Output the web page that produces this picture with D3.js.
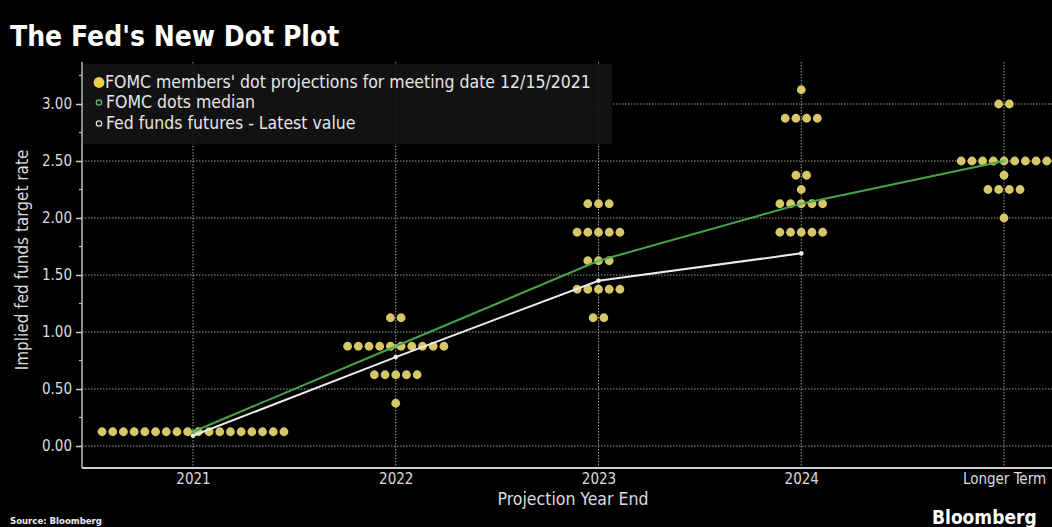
<!DOCTYPE html>
<html>
<head>
<meta charset="utf-8">
<script src="https://cdn.jsdelivr.net/npm/d3@7"></script>
<style>
  html, body { margin: 0; padding: 0; background: #000; }
  svg { display: block; }
  text { font-family: "DejaVu Sans Condensed", "DejaVu Sans", sans-serif; }
</style>
</head>
<body>
<svg id="chart" width="1052" height="527"></svg>
<script>
// ---- data ----
const categories = ["2021", "2022", "2023", "2024", "Longer Term"];
// dot levels (rates) and number of dots at each level, per category
const dotLevels2021 = [0.125];
const dotCounts2021 = [18];
const dotLevels2022 = [1.125, 0.875, 0.625, 0.375];
const dotCounts2022 = [2, 10, 5, 1];
const dotLevels2023 = [2.125, 1.875, 1.625, 1.375, 1.125];
const dotCounts2023 = [3, 5, 3, 5, 2];
const dotLevels2024 = [3.125, 2.875, 2.375, 2.25, 2.125, 1.875];
const dotCounts2024 = [1, 4, 2, 1, 5, 5];
const dotLevelsLonger = [3.0, 2.5, 2.375, 2.25, 2.0];
const dotCountsLonger = [2, 9, 1, 4, 1];
const medianValues = [0.125, 0.875, 1.625, 2.125, 2.5];
const futuresCategories = ["2021", "2022", "2023", "2024"];
const futuresValues = [0.09, 0.78, 1.45, 1.69];
const yTickValues = [0, 0.5, 1.0, 1.5, 2.0, 2.5, 3.0];
const yMinorTickValues = [0.25, 0.75, 1.25, 1.75, 2.25, 2.75, 3.25];
const legendLabels = [
  "FOMC members' dot projections for meeting date 12/15/2021",
  "FOMC dots median",
  "Fed funds futures - Latest value"
];

const dotLevels = [dotLevels2021, dotLevels2022, dotLevels2023, dotLevels2024, dotLevelsLonger];
const dotCounts = [dotCounts2021, dotCounts2022, dotCounts2023, dotCounts2024, dotCountsLonger];

// ---- layout ----
const svg = d3.select("#chart");
const W = 1052, H = 527;
const plotLeft = 82, plotTop = 62, plotBottom = 468;
const dotColor = "#d6c869";
const greenColor = "#46a446";
const whiteColor = "#ececec";
const gridColor = "#9a9a9a";
const textColor = "#dcdcdc";
const dotSpacing = 10.7, dotR = 4.4;

const x = d3.scalePoint().domain(categories).range([193, 1004]);
const y = d3.scaleLinear().domain([0, 3]).range([446, 104]);

svg.append("rect").attr("width", W).attr("height", H).attr("fill", "#000");

// gridlines
const grid = svg.append("g");
grid.selectAll("line.h").data(yTickValues).join("line")
  .attr("x1", plotLeft).attr("x2", W)
  .attr("y1", d => y(d)).attr("y2", d => y(d))
  .attr("stroke", gridColor).attr("stroke-width", 1)
  .attr("stroke-dasharray", "1.5,1.5");
grid.selectAll("line.v").data(categories).join("line")
  .attr("x1", d => x(d)).attr("x2", d => x(d))
  .attr("y1", plotTop).attr("y2", plotBottom)
  .attr("stroke", gridColor).attr("stroke-width", 1)
  .attr("stroke-dasharray", "1.5,1.5");

// legend box
const lg = svg.append("g");
lg.append("rect").attr("x", plotLeft + 1).attr("y", plotTop + 2)
  .attr("width", 529).attr("height", 80).attr("fill", "#141414").attr("opacity", 0.9);

// dots
const dotData = [];
categories.forEach((c, ci) => {
  dotLevels[ci].forEach((lv, li) => {
    const n = dotCounts[ci][li];
    for (let i = 0; i < n; i++) {
      dotData.push({ c, v: lv, off: (i - (n - 1) / 2) * dotSpacing });
    }
  });
});
svg.append("g").selectAll("circle").data(dotData).join("circle")
  .attr("cx", d => x(d.c) + d.off).attr("cy", d => y(d.v))
  .attr("r", dotR).attr("fill", dotColor);

// futures line (white)
const futData = futuresCategories.map((c, i) => ({ c, v: futuresValues[i] }));
const line = d3.line().x(d => x(d.c)).y(d => y(d.v));
svg.append("path").datum(futData).attr("d", line)
  .attr("fill", "none").attr("stroke", whiteColor).attr("stroke-width", 2);
svg.append("g").selectAll("circle").data(futData).join("circle")
  .attr("cx", d => x(d.c)).attr("cy", d => y(d.v)).attr("r", 2.3)
  .attr("fill", whiteColor);

// median line (green)
const medData = categories.map((c, i) => ({ c, v: medianValues[i] }));
svg.append("path").datum(medData).attr("d", line)
  .attr("fill", "none").attr("stroke", greenColor).attr("stroke-width", 2);
svg.append("g").selectAll("circle").data(medData).join("circle")
  .attr("cx", d => x(d.c)).attr("cy", d => y(d.v)).attr("r", 2.3)
  .attr("fill", "#7cc26a").attr("opacity", 0.8);

// axes
const yAxis = d3.axisLeft(y).tickValues(yTickValues).tickFormat(d3.format(".2f")).tickSize(6).tickPadding(4);
const ya = svg.append("g").attr("transform", `translate(${plotLeft},0)`).call(yAxis);
ya.select(".domain").remove();
ya.selectAll("line").attr("stroke", "#cfcfcf").attr("stroke-width", 1.5);
ya.selectAll("text").attr("fill", textColor).attr("font-size", 15)
  .style("font-family", '"DejaVu Sans Condensed", sans-serif');
svg.append("g").selectAll("line").data(yMinorTickValues).join("line")
  .attr("x1", plotLeft - 3).attr("x2", plotLeft)
  .attr("y1", d => y(d)).attr("y2", d => y(d))
  .attr("stroke", "#bbb").attr("stroke-width", 1.2);
svg.append("line").attr("x1", plotLeft).attr("x2", plotLeft)
  .attr("y1", plotTop).attr("y2", plotBottom)
  .attr("stroke", "#bdbdbd").attr("stroke-width", 1.5);

const xAxis = d3.axisBottom(x).tickSize(0).tickPadding(5);
const xa = svg.append("g").attr("transform", `translate(0,${plotBottom})`).call(xAxis);
xa.select(".domain").remove();
xa.selectAll("text").attr("fill", textColor).attr("font-size", 15)
  .style("font-family", '"DejaVu Sans Condensed", sans-serif');
svg.append("line").attr("x1", plotLeft).attr("x2", W)
  .attr("y1", plotBottom).attr("y2", plotBottom)
  .attr("stroke", "#cfcfcf").attr("stroke-width", 2);

// legend contents
const legY = [83, 103, 124];
lg.append("circle").attr("cx", 99).attr("cy", legY[0] - 0.5).attr("r", 5.4).attr("fill", "#e8d04c");
lg.append("circle").attr("cx", 99).attr("cy", legY[1] - 0.5).attr("r", 2.7)
  .attr("fill", "none").attr("stroke", "#6fb86f").attr("stroke-width", 1.2);
lg.append("circle").attr("cx", 99).attr("cy", legY[2] - 0.5).attr("r", 2.7)
  .attr("fill", "none").attr("stroke", "#e0e0e0").attr("stroke-width", 1.2);
lg.selectAll("text").data(legendLabels).join("text")
  .attr("x", (d, i) => i === 0 ? 105 : 106).attr("y", (d, i) => legY[i])
  .attr("dominant-baseline", "middle")
  .attr("fill", "#e6e6e6").attr("font-size", 17.5)
  .text(d => d);

// title
svg.append("text").attr("x", 10).attr("y", 46)
  .attr("fill", "#fff").attr("font-size", 28).attr("font-weight", "bold")
  .text("The Fed's New Dot Plot");

// axis titles
svg.append("text").attr("transform", "translate(28,260) rotate(-90)")
  .attr("text-anchor", "middle").attr("fill", textColor).attr("font-size", 17)
  .text("Implied fed funds target rate");
svg.append("text").attr("x", 573).attr("y", 505)
  .attr("text-anchor", "middle").attr("fill", textColor).attr("font-size", 17.5)
  .text("Projection Year End");

// source / brand
svg.append("text").attr("x", 10).attr("y", 524)
  .attr("fill", "#eee").attr("font-size", 9.5).attr("font-weight", "bold")
  .attr("font-family", "DejaVu Sans Mono, monospace")
  .text("Source: Bloomberg");
svg.append("text").attr("x", 932).attr("y", 524)
  .attr("fill", "#fff").attr("font-size", 19).attr("font-weight", "bold")
  .attr("font-family", "DejaVu Sans, sans-serif")
  .text("Bloomberg");
</script>
</body>
</html>
